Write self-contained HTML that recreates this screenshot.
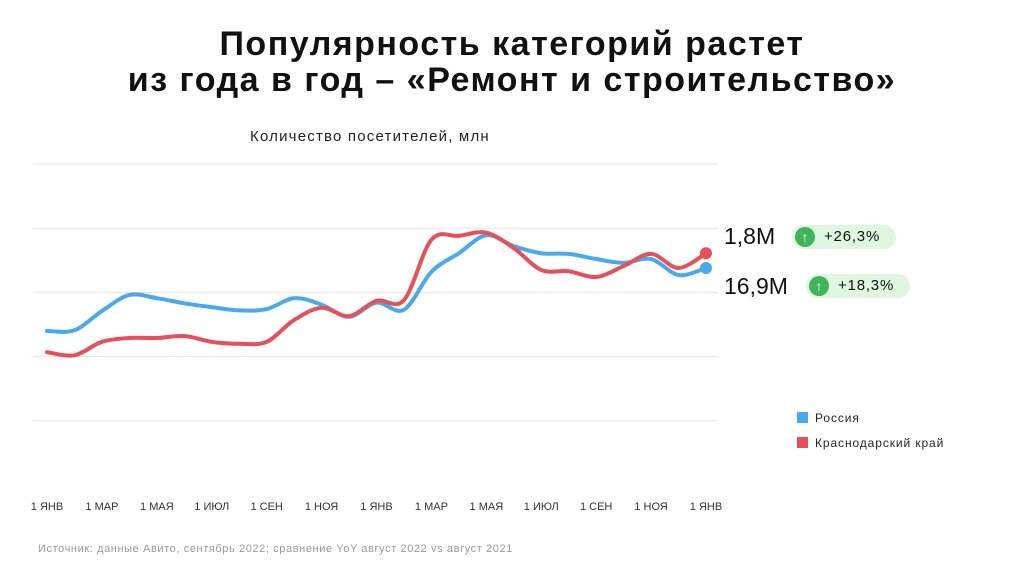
<!DOCTYPE html>
<html><head><meta charset="utf-8"><style>
body{margin:0;width:1024px;height:571px;background:#fff;font-family:"Liberation Sans","DejaVu Sans",sans-serif;overflow:hidden;position:relative}
.t{position:absolute;left:0;width:1024px;text-align:center;font-weight:bold;font-size:34px;letter-spacing:1.5px;color:#111;line-height:36px}
.val{position:absolute;font-size:23px;color:#111}
.badge{position:absolute;height:24px;border-radius:12px;background:#dff6df;font-size:15px;letter-spacing:0.8px;color:#111;line-height:24px;padding:0 16px 0 32px}
.badge i{position:absolute;left:3px;top:2px;width:20px;height:20px;border-radius:50%;background:#3fb45a;color:#fff;font-style:normal;text-align:center;line-height:20px;font-size:14px;font-weight:bold;letter-spacing:0}
.leg{position:absolute;font-size:12px;letter-spacing:0.9px;color:#222}
.leg b{position:absolute;left:-18px;top:1px;width:11px;height:11px}
</style></head><body>
<div class="t" style="top:26px">Популярность категорий растет<br>из года в год – «Ремонт и строительство»</div>
<div style="position:absolute;left:250px;top:128px;font-size:15px;letter-spacing:1.2px;color:#222">Количество посетителей, млн</div>
<svg id="chart" width="1024" height="571" style="position:absolute;left:0;top:0"></svg>
<div class="val" style="left:724px;top:223px">1,8M</div>
<div class="badge" style="left:792px;top:225px"><i>↑</i>+26,3%</div>
<div class="val" style="left:724px;top:273px">16,9M</div>
<div class="badge" style="left:806px;top:274px"><i>↑</i>+18,3%</div>
<div class="leg" style="left:815px;top:411px"><b style="background:#4aa8ef"></b>Россия</div>
<div class="leg" style="left:815px;top:436px"><b style="background:#e5505a"></b>Краснодарский край</div>
<div style="position:absolute;left:38px;top:543px;font-size:11px;letter-spacing:0.6px;color:#999">Источник: данные Авито, сентябрь 2022; сравнение YoY август 2022 vs август 2021</div>
<script>
const tickLabels=["1 ЯНВ","1 МАР","1 МАЯ","1 ИЮЛ","1 СЕН","1 НОЯ","1 ЯНВ","1 МАР","1 МАЯ","1 ИЮЛ","1 СЕН","1 НОЯ","1 ЯНВ"];
const russia=[2.40,2.41,2.71,2.96,2.91,2.83,2.77,2.72,2.74,2.91,2.81,2.62,2.84,2.73,3.32,3.61,3.89,3.72,3.61,3.60,3.52,3.46,3.52,3.27,3.38];
const krasnodar=[2.07,2.02,2.23,2.29,2.29,2.32,2.23,2.20,2.23,2.57,2.76,2.63,2.87,2.88,3.82,3.88,3.93,3.69,3.35,3.33,3.24,3.41,3.60,3.38,3.61];
const svg=document.getElementById('chart');const NS='http://www.w3.org/2000/svg';
const x0=47,x1=706,yb=485,unit=64.2;
const X=i=>x0+i*(x1-x0)/(russia.length-1);
const Y=v=>yb-v*unit;
for(let g=1;g<=5;g++){const l=document.createElementNS(NS,'line');


l.setAttribute('x1',33);l.setAttribute('x2',718);l.setAttribute('y1',Y(g));l.setAttribute('y2',Y(g));l.setAttribute('stroke','#e6e6e6');svg.appendChild(l);}
tickLabels.forEach((t,k)=>{const e=document.createElementNS(NS,'text');


e.setAttribute('x',X(k*2));e.setAttribute('y',510);e.setAttribute('text-anchor','middle');e.setAttribute('font-size','11');e.setAttribute('fill','#333');e.textContent=t;svg.appendChild(e);});
function path(d){const p=d.map((v,i)=>[X(i),Y(v)]);let s='M'+p[0][0]+','+p[0][1];
for(let i=0;i<p.length-1;i++){const a=p[Math.max(0,i-1)],b=p[i],c=p[i+1],e=p[Math.min(p.length-1,i+2)];
s+=' C'+(b[0]+(c[0]-a[0])/6)+','+(b[1]+(c[1]-a[1])/6)+' '+(c[0]-(e[0]-b[0])/6)+','+(c[1]-(e[1]-b[1])/6)+' '+c[0]+','+c[1];}return s;}
[[russia,'#4aa8ef','russia-line'],[krasnodar,'#e5505a','krasnodar-line']].forEach(([d,c,n])=>{
const p=document.createElementNS(NS,'path');


p.setAttribute('d',path(d));p.setAttribute('fill','none');p.setAttribute('stroke',c);p.setAttribute('stroke-width','4');p.setAttribute('stroke-linecap','round');svg.appendChild(p);
const ci=document.createElementNS(NS,'circle');


ci.setAttribute('cx',X(d.length-1));ci.setAttribute('cy',Y(d[d.length-1]));ci.setAttribute('r',6);ci.setAttribute('fill',c);svg.appendChild(ci);});
</script>
</body></html>
